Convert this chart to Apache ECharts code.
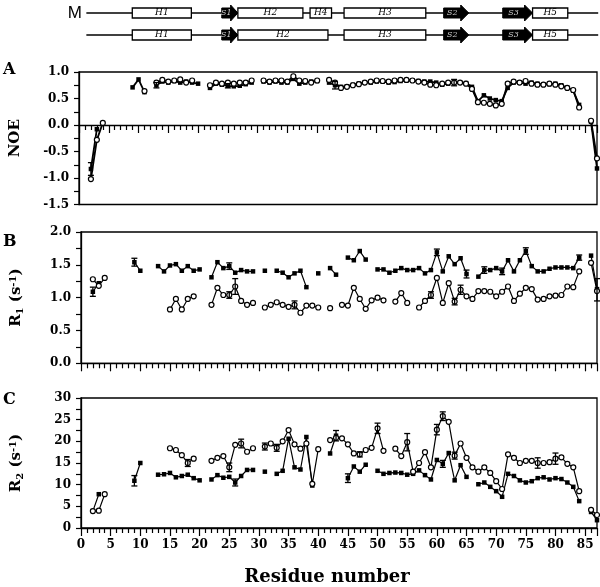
<!DOCTYPE html>
<html>
<head>
<meta charset="utf-8">
<script src="https://cdn.jsdelivr.net/npm/echarts@6/dist/echarts.min.js"></script>
<style>
  html, body { margin: 0; padding: 0; background: #fff; }
  #chart { width: 600px; height: 587px; }
</style>
</head>
<body>
<div id="chart"></div>
<script>
// residue numbers 1..87, values indexed by residue - 1 (null = not measured)
const residues = Array.from({ length: 87 }, (_, i) => i + 1);

// A: heteronuclear NOE, M = filled, D = open
const noeM = [
  null, -0.83, -0.08, null, null, null, null, null, 0.71, 0.86,
  0.62, null, 0.75, 0.82, 0.80, 0.83, 0.80, 0.82, 0.80, 0.78,
  null, 0.70, 0.78, 0.76, 0.74, 0.73, 0.74, 0.77, 0.80, null,
  0.82, 0.80, 0.82, 0.80, 0.80, 0.87, 0.78, 0.80, 0.82, 0.83,
  null, 0.80, 0.75, 0.72, 0.73, 0.76, 0.78, 0.80, 0.80, 0.82,
  0.82, 0.80, 0.81, 0.83, 0.84, 0.84, 0.83, 0.82, 0.82, 0.80,
  0.76, 0.78, 0.80, 0.80, 0.79, 0.72, 0.45, 0.56, 0.50, 0.47,
  0.45, 0.70, 0.80, 0.80, 0.78, 0.80, 0.78, 0.76, 0.77, 0.78,
  0.75, 0.70, 0.65, 0.38, null, 0.06, -0.82
];
const noeD = [
  null, -1.02, -0.28, 0.04, null, null, null, null, null, null,
  0.64, null, 0.80, 0.85, 0.82, 0.84, 0.86, 0.80, 0.84, null,
  null, 0.75, 0.80, 0.78, 0.80, 0.78, 0.80, 0.80, 0.84, null,
  0.84, 0.82, 0.84, 0.84, 0.82, 0.92, 0.84, 0.83, 0.80, 0.84,
  null, 0.85, 0.80, 0.70, 0.72, 0.75, 0.77, 0.80, 0.82, 0.84,
  0.83, 0.82, 0.84, 0.85, 0.85, 0.84, 0.82, 0.80, 0.76, 0.75,
  0.78, 0.80, 0.80, 0.80, 0.78, 0.68, 0.43, 0.42, 0.40, 0.37,
  0.40, 0.78, 0.82, 0.80, 0.83, 0.78, 0.76, 0.76, 0.78, 0.76,
  0.73, 0.70, 0.66, 0.33, null, 0.08, -0.63
];
// B: R1 (s-1)
const r1M = [
  null, 1.09, 1.22, null, null, null, null, null, 1.54, 1.41,
  null, null, 1.48, 1.40, 1.49, 1.51, 1.41, 1.48, 1.41, 1.43,
  null, 1.31, 1.54, 1.45, 1.48, 1.38, 1.42, 1.40, 1.40, null,
  1.41, null, 1.41, 1.38, 1.31, 1.37, 1.41, 1.16, null, 1.37,
  null, 1.45, 1.35, null, 1.61, 1.57, 1.71, 1.58, null, 1.43,
  1.43, 1.38, 1.41, 1.45, 1.42, 1.42, 1.45, 1.37, 1.42, 1.69,
  1.40, 1.63, 1.51, 1.60, 1.36, null, 1.32, 1.42, 1.42, 1.45,
  1.40, 1.57, 1.40, 1.57, 1.71, 1.48, 1.40, 1.40, 1.44, 1.46,
  1.46, 1.46, 1.45, 1.61, null, 1.64, 1.13
];
const r1D = [
  null, 1.28, 1.18, 1.30, null, null, null, null, null, null,
  null, null, null, null, 0.82, 0.98, 0.82, 0.98, 1.02, null,
  null, 0.89, 1.15, 1.04, 1.04, 1.17, 0.95, 0.89, 0.92, null,
  0.85, 0.89, 0.93, 0.89, 0.86, 0.89, 0.77, 0.88, 0.88, 0.85,
  null, 0.84, null, 0.89, 0.88, 1.15, 0.98, 0.83, 0.96, 1.00,
  0.96, null, 0.94, 1.07, 0.92, null, 0.85, 0.95, 1.04, 1.30,
  0.92, 1.22, 0.94, 1.12, 1.02, 0.98, 1.10, 1.10, 1.09, 1.02,
  1.09, 1.17, 0.95, 1.06, 1.15, 1.13, 0.97, 0.98, 1.02, 1.03,
  1.04, 1.17, 1.16, 1.40, null, 1.53, 1.10
];
// C: R2 (s-1)
const r2M = [
  null, 3.9, 7.8, null, null, null, null, null, 10.9, 15.0,
  null, null, 12.3, 12.4, 12.7, 11.7, 12.0, 12.3, 11.5, 11.0,
  null, 11.2, 12.2, 11.6, 11.8, 10.5, 12.0, 13.4, 13.4, null,
  13.0, null, 12.5, 13.2, 20.6, 14.0, 13.5, 21.0, 9.8, null,
  null, 17.2, 21.3, null, 11.5, 14.2, 13.0, 14.6, null, 13.2,
  12.5, 12.7, 12.8, 12.7, 12.3, 12.5, 13.3, 12.2, 11.2, 15.7,
  14.8, 17.3, 11.0, 14.5, 11.8, null, 10.1, 10.5, 9.5, 8.5,
  7.2, 12.5, 12.0, 11.0, 10.5, 10.8, 11.5, 11.7, 11.2, 11.5,
  11.3, 10.5, 9.5, 6.2, null, 3.7, 1.8
];
const r2D = [
  null, 3.9, 4.0, 7.8, null, null, null, null, null, null,
  null, null, null, null, 18.4, 18.0, 16.8, 15.0, 16.0, null,
  null, 15.5, 16.2, 16.6, 14.0, 19.2, 19.5, 17.6, 18.4, null,
  18.8, 19.5, 18.5, 20.0, 22.6, 19.3, 18.3, 19.5, 10.2, 18.2,
  null, 20.3, 20.8, 20.7, 19.3, 17.2, 17.0, 18.0, 18.5, 23.0,
  17.8, null, 18.3, 16.6, 19.8, 13.0, 15.0, 17.5, 14.0, 22.7,
  25.8, 24.5, 16.7, 19.5, 16.2, 14.0, 13.0, 14.0, 12.7, 10.8,
  9.0, 17.0, 16.2, 15.0, 15.5, 15.5, 15.0, 15.0, 15.2, 16.0,
  16.3, 14.8, 14.0, 8.5, null, 4.2, 3.0
];

// error bars: [residue, value, half width]
const noeErr = [[2, -0.83, 0.12], [13, 0.75, 0.05], [25, 0.74, 0.04], [43, 0.75, 0.07], [63, 0.80, 0.06]];
const r1Err = [[2, 1.09, 0.07], [9, 1.54, 0.06], [25, 1.48, 0.05], [25, 1.04, 0.05], [26, 1.17, 0.12],
  [36, 0.89, 0.06], [59, 1.04, 0.05], [60, 1.69, 0.05], [63, 0.94, 0.05], [64, 1.12, 0.07],
  [65, 1.36, 0.06], [68, 1.42, 0.05], [71, 1.40, 0.05], [75, 1.71, 0.05], [84, 1.61, 0.04], [87, 1.12, 0.17]];
const r2Err = [[9, 10.9, 1.2], [18, 15.0, 0.8], [25, 14.0, 1.0], [26, 10.5, 0.8], [27, 19.5, 1.0],
  [31, 18.8, 0.8], [33, 18.5, 0.8], [43, 21.3, 1.2], [45, 11.5, 1.0], [47, 17.0, 0.6], [50, 23.0, 1.2],
  [55, 19.8, 2.0], [60, 22.7, 1.2], [61, 25.8, 1.0], [61, 14.8, 0.8], [63, 16.7, 0.8], [77, 15.0, 1.2], [80, 16.0, 1.3]];

// secondary structure (residue ranges)
const topoRows = ['M', 'D'];
const backbone = [1.4, 87.2];
const helixM = [[9.1, 19.0, 'H1'], [26.8, 37.7, 'H2'], [38.9, 42.5, 'H4'], [44.6, 58.3, 'H3'], [76.2, 82.1, 'H5']];
const helixD = [[9.1, 19.0, 'H1'], [26.8, 41.9, 'H2'], [44.6, 58.3, 'H3'], [76.2, 82.1, 'H5']];
const strands = [[24.1, 26.8, 'S1'], [61.3, 65.5, 'S2'], [71.2, 76.2, 'S3']];

const serif = "'DejaVu Serif', 'Liberation Serif', serif";

// build topology items: [start, end, row, kind] kind 0 line, 1 helix, 2 strand
const topoData = [];
const topoLabels = [];
topoRows.forEach((row, ri) => {
  topoData.push([backbone[0], backbone[1], ri, 0]); topoLabels.push('');
  (ri === 0 ? helixM : helixD).forEach(h => { topoData.push([h[0], h[1], ri, 1]); topoLabels.push(h[2]); });
  strands.forEach(s => { topoData.push([s[0], s[1], ri, 2]); topoLabels.push(s[2]); });
});

const chart = echarts.init(document.getElementById('chart'), null, { renderer: 'canvas' });

const L = 78, R = 3;
const grids = [
  { left: L, right: R, top: 2, height: 44 },
  { left: L, right: R, top: 72, height: 132.5, show: true, borderColor: '#000', borderWidth: 1.3 },
  { left: L, right: R, top: 232, height: 131.3, show: true, borderColor: '#000', borderWidth: 1.3 },
  { left: L, right: R, top: 398, height: 130.3, show: true, borderColor: '#000', borderWidth: 1.3 }
];

function xAx(idx, labels) {
  return {
    gridIndex: idx, type: 'value', min: 0, max: 87, interval: 5,
    axisLine: { show: true, onZero: true, lineStyle: { color: '#000', width: 1.3 } },
    axisTick: { show: true, length: 8, lineStyle: { color: '#000', width: 1.2 } },
    minorTick: { show: true, splitNumber: 5, length: 5, lineStyle: { color: '#000', width: 1.2 } },
    splitLine: { show: false },
    axisLabel: { show: labels, showMaxLabel: false, margin: 11, color: '#000', fontFamily: serif, fontWeight: 'bold', fontSize: 12 }
  };
}
function yAx(idx, min, max, interval, dec, name, rich) {
  return {
    gridIndex: idx, type: 'value', min, max, interval,
    name, nameLocation: 'middle', nameGap: 56, nameRotate: 90,
    nameTextStyle: { color: '#000', fontFamily: serif, fontWeight: 'bold', fontSize: 15, rich },
    axisLine: { show: true, lineStyle: { color: '#000', width: 1.3 } },
    axisTick: { show: true, length: 5, lineStyle: { color: '#000', width: 1.2 } },
    minorTick: { show: true, splitNumber: 2, length: 5, lineStyle: { color: '#000', width: 1.2 } },
    splitLine: { show: false },
    axisLabel: { margin: 10, color: '#000', fontFamily: serif, fontWeight: 'bold', fontSize: 12,
      formatter: v => v.toFixed(dec) }
  };
}
const unitRich = {
  a: { fontFamily: serif, fontWeight: 'bold', fontSize: 15, color: '#000' },
  b: { fontFamily: serif, fontWeight: 'bold', fontSize: 10, color: '#000', padding: [7, 0, 0, 0] },
  c: { fontFamily: serif, fontWeight: 'bold', fontSize: 10, color: '#000', padding: [0, 0, 7, 0] }
};

function pts(vals) {
  return residues.map((r, i) => [r, vals[i] == null ? '-' : vals[i]]);
}
function dataSeries(vals, idx, filled, lw) {
  return {
    type: 'line', xAxisIndex: idx, yAxisIndex: idx, data: pts(vals),
    symbol: filled ? 'rect' : 'circle', symbolSize: filled ? 4.5 : 5, showAllSymbol: true,
    connectNulls: false, z: filled ? 3 : 4,
    lineStyle: { color: '#000', width: lw || 1.2 },
    itemStyle: { color: filled ? '#000' : '#fff', borderColor: '#000', borderWidth: filled ? 0 : 1.2 },
    emphasis: { disabled: true }
  };
}
function errSeries(errs, idx) {
  return {
    type: 'custom', xAxisIndex: idx, yAxisIndex: idx, data: errs, z: 5,
    encode: { x: 0, y: 1 },
    renderItem: (params, api) => {
      const x = api.value(0), c = api.value(1), e = api.value(2);
      const lo = api.coord([x, c - e]), hi = api.coord([x, c + e]);
      const st = { stroke: '#000', lineWidth: 1.3 };
      return { type: 'group', children: [
        { type: 'line', shape: { x1: lo[0], y1: lo[1], x2: hi[0], y2: hi[1] }, style: st },
        { type: 'line', shape: { x1: lo[0] - 3, y1: lo[1], x2: lo[0] + 3, y2: lo[1] }, style: st },
        { type: 'line', shape: { x1: hi[0] - 3, y1: hi[1], x2: hi[0] + 3, y2: hi[1] }, style: st }
      ] };
    }
  };
}

const topoSeries = {
  type: 'custom', xAxisIndex: 0, yAxisIndex: 0, data: topoData, clip: false,
  encode: { x: [0, 1], y: 2 },
  renderItem: (params, api) => {
    const s = api.value(0), e = api.value(1), row = api.value(2), kind = api.value(3);
    const p1 = api.coord([s, row]), p2 = api.coord([e, row]);
    const y = p1[1], x1 = p1[0], x2 = p2[0];
    const label = topoLabels[params.dataIndex];
    if (kind === 0) {
      return { type: 'line', shape: { x1, y1: y, x2, y2: y }, style: { stroke: '#000', lineWidth: 1.5 } };
    }
    if (kind === 1) {
      return { type: 'group', children: [
        { type: 'rect', shape: { x: x1, y: y - 5, width: x2 - x1, height: 10 },
          style: { fill: '#fff', stroke: '#000', lineWidth: 1.3 } },
        { type: 'text', x: (x1 + x2) / 2, y: y,
          style: { text: label, font: 'italic 9px ' + serif, fill: '#000',
            align: 'center', verticalAlign: 'middle', textAlign: 'center', textVerticalAlign: 'middle' } }
      ] };
    }
    const head = Math.min(8, (x2 - x1) * 0.45);
    const xh = x2 - head;
    return { type: 'group', children: [
      { type: 'polygon', shape: { points: [[x1, y - 5], [xh, y - 5], [xh, y - 8], [x2, y], [xh, y + 8], [xh, y + 5], [x1, y + 5]] },
        style: { fill: '#000', stroke: '#000', lineWidth: 1 } },
      { type: 'text', x: (x1 + xh) / 2, y: y,
        style: { text: label, font: 'italic 8px ' + serif, fill: '#ccc',
          align: 'center', verticalAlign: 'middle', textAlign: 'center', textVerticalAlign: 'middle' } }
    ] };
  }
};

const panelLetter = (t, left, top) => ({
  type: 'text', left, top, style: { text: t, font: 'bold 16px ' + serif, fill: '#000' }
});

chart.setOption({
  animation: false,
  backgroundColor: '#fff',
  grid: grids,
  xAxis: [
    { gridIndex: 0, type: 'value', min: 0, max: 87, show: false },
    xAx(1, false), xAx(2, false),
    Object.assign(xAx(3, true), {
      name: 'Residue number', nameLocation: 'middle', nameGap: 40,
      nameTextStyle: { color: '#000', fontFamily: serif, fontWeight: 'bold', fontSize: 18, padding: [0, 24, 0, 0] }
    })
  ],
  yAxis: [
    { gridIndex: 0, type: 'category', data: topoRows, inverse: true,
      axisLine: { show: false }, axisTick: { show: false },
      axisLabel: { margin: -4, color: '#000', fontFamily: "'Liberation Sans', Arial, sans-serif", fontSize: 17 } },
    yAx(1, -1.5, 1, 0.5, 1, 'NOE', null),
    yAx(2, 0, 2, 0.5, 1, '{a|R}{b|1}{a| (s}{c|-1}{a|)}', unitRich),
    yAx(3, 0, 30, 5, 0, '{a|R}{b|2}{a| (s}{c|-1}{a|)}', unitRich)
  ],
  graphic: [panelLetter('A', 3, 62), panelLetter('B', 3, 234), panelLetter('C', 3, 392)],
  series: [
    topoSeries,
    dataSeries(noeM, 1, true, 1.8), dataSeries(noeD, 1, false, 1.8), errSeries(noeErr, 1),
    dataSeries(r1M, 2, true), dataSeries(r1D, 2, false), errSeries(r1Err, 2),
    dataSeries(r2M, 3, true), dataSeries(r2D, 3, false), errSeries(r2Err, 3)
  ]
});
</script>
</body>
</html>
